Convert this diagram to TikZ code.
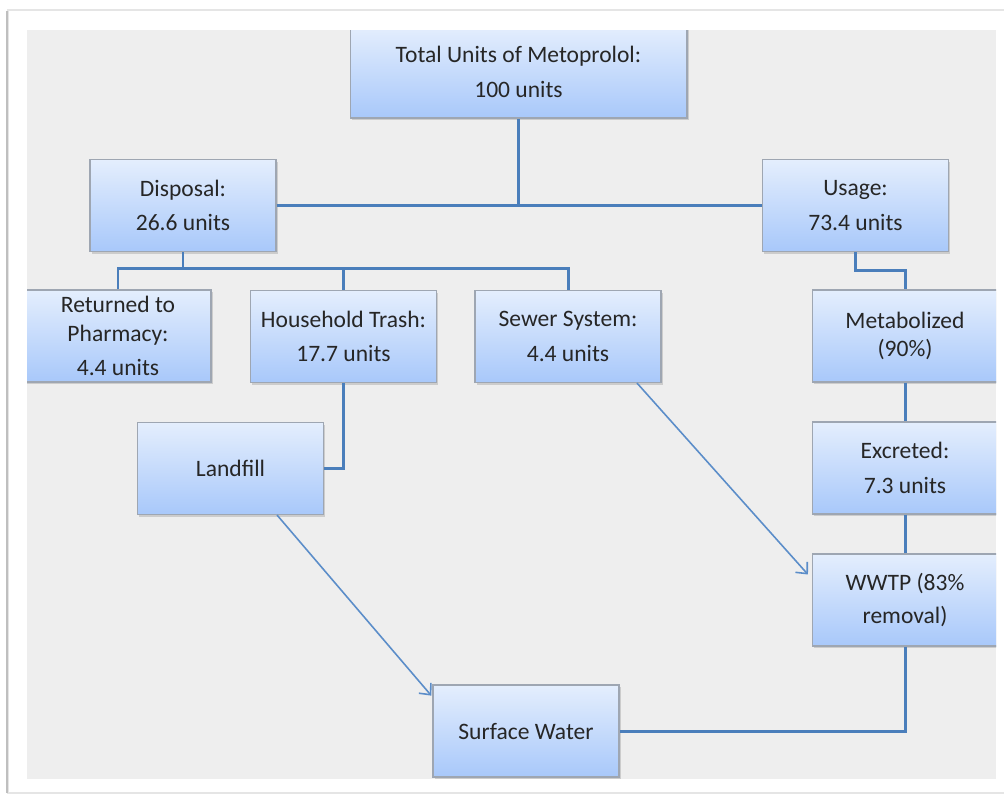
\documentclass[tikz,border=0pt]{standalone}
\usepackage{fontspec}
\setmainfont{Carlito}
\usetikzlibrary{arrows.meta,shadows}

\definecolor{linkblue}{HTML}{4A7EBB}
\definecolor{flowblue}{HTML}{5B8DC9}
\definecolor{boxtop}{HTML}{E4EEFD}
\definecolor{boxbot}{HTML}{A8C8FA}
\definecolor{boxedge}{HTML}{9EA6B2}
\definecolor{panel}{HTML}{EEEEEE}

\begin{document}
\begin{tikzpicture}[x=0.02cm,y=-0.02cm,
    box/.style={draw=boxedge, line width=0.6pt, top color=boxtop, bottom color=boxbot,
      minimum width=3.72cm, minimum height=1.84cm, inner sep=2pt, align=center,
      font=\fontsize{13.4}{16}\selectfont, text=black!85,
      drop shadow={shadow xshift=1pt, shadow yshift=-1.2pt, opacity=0.3}},
    link/.style={linkblue, line width=1.7pt},
    flow/.style={flowblue, line width=0.9pt, -{Straight Barb[length=5pt,width=9pt]}}]
    \useasboundingbox (0,0) rectangle (1004,796);

    % --- page and panel ---
    \fill[white] (0,0) rectangle (1004,796);
    \draw[black!10, line width=1.2pt] (1004,10) -- (8,10) -- (8,793) -- (1004,793);
    \draw[black!25, line width=1pt] (7,11) -- (7,793);
    \fill[panel] (27,30) rectangle (996,779);

    \begin{scope}
    \clip (27,30) rectangle (996,779);

    % --- top level ---
    \node[box, minimum width=6.74cm] (total) at (518.5,72) {Total Units of Metoprolol:\\[3.5pt]100 units};
    \node[box] (disp) at (183,205.5) {Disposal:\\[3.5pt]26.6 units};
    \node[box] (use) at (855.5,205.5) {Usage:\\[3.5pt]73.4 units};

    % --- disposal routes ---
    \node[box] (ret) at (118,336) {Returned to\\Pharmacy:\\[3.5pt]4.4 units};
    \node[box] (house) at (343.5,336.5) {Household Trash:\\[3.5pt]17.7 units};
    \node[box] (sew) at (568,336.5) {Sewer System:\\[3.5pt]4.4 units};
    \node[box] (land) at (230.5,468.5) {Landfill};

    % --- usage route ---
    \node[box] (metab) at (905,336) {Metabolized\\(90\%)};
    \node[box] (excr) at (905,468) {Excreted:\\[3.5pt]7.3 units};
    \node[box] (wwtp) at (905,600) {WWTP (83\%\\[2.5pt]removal)};
    \node[box] (surf) at (526,731) {Surface Water};

    % --- tree lines ---
    \draw[link] (total.south) -- (total.south |- disp.east);
    \draw[link] (disp.east) -- (use.west);
    \draw[link] (disp.south) -- ++(0,16) coordinate (dbus);
    \draw[link] (ret.north) |- (dbus) -| (sew.north);
    \draw[link] (house.north) -- (house.north |- dbus);
    \draw[link] (use.south) -- ++(0,18) -| (metab.north);
    \draw[link] (metab.south) -- (excr.north);
    \draw[link] (excr.south) -- (wwtp.north);
    \draw[link] (house.south) |- (land.east);
    \draw[link] (wwtp.south) |- (surf.east);

    % --- flows to water ---
    \draw[flow, shorten >=3pt] (sew.-34) -- (wwtp.167);
    \draw[flow, shorten >=1pt] (land.-45) -- (surf.160);
    \end{scope}
\end{tikzpicture}
\end{document}
